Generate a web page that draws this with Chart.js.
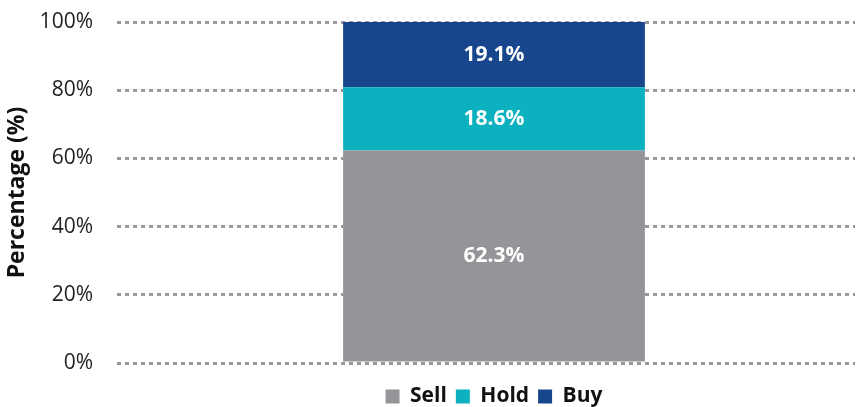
<!DOCTYPE html>
<html>
<head>
<meta charset="utf-8">
<script src="https://cdn.jsdelivr.net/npm/chart.js@4"></script>
<style>
  html, body { margin: 0; padding: 0; background: #fff; }
  #wrap { width: 860px; height: 407px; }
</style>
</head>
<body>
<div id="wrap"><canvas id="chart-1" width="860" height="407"></canvas></div>
<script>
var categories = [""];
var series_names = ["Sell", "Hold", "Buy"];
var sell_values = [62.3];
var hold_values = [18.6];
var buy_values = [19.1];
var series_colors = ["#939598", "#0bb1bf", "#17468c"];
var y_ticks = [0, 20, 40, 60, 80, 100];

// writes the value in the middle of each segment
const segment_labels = {
    id: "segment_labels",
    afterDatasetsDraw(chart) {
        const ctx = chart.ctx;
        ctx.save();
        ctx.fillStyle = "#ffffff";
        ctx.font = "bold 21px 'Open Sans'";
        ctx.textAlign = "center";
        ctx.textBaseline = "middle";
        chart.data.datasets.forEach(function(ds, i) {
            const meta = chart.getDatasetMeta(i);
            meta.data.forEach(function(bar, j) {
                const mid = (bar.y + bar.base) / 2;
                ctx.fillText(ds.data[j].toFixed(1) + "%", bar.x, mid);
            });
        });
        ctx.restore();
    },
};

const ctx = document.getElementById("chart-1").getContext("2d");
const myChart = new Chart(ctx, {
    type: "bar",
    data: {
        labels: categories,
        datasets: [{
            label: series_names[0],
            data: sell_values,
            backgroundColor: series_colors[0],
        }, {
            label: series_names[1],
            data: hold_values,
            backgroundColor: series_colors[1],
        }, {
            label: series_names[2],
            data: buy_values,
            backgroundColor: series_colors[2],
        }],
    },
    options: {
        responsive: false,
        animation: false,
        datasets: {
            bar: {
                barPercentage: 0.418,
                categoryPercentage: 1,
            },
        },
        layout: {
            padding: { left: 0, right: 5, top: 22, bottom: -10 },
        },
        plugins: {
            tooltip: { enabled: false },
            legend: {
                position: "bottom",
                fullSize: false,
                labels: {
                    boxWidth: 14,
                    boxHeight: 14,
                    padding: 9,
                    color: "#111",
                    font: { family: "'Open Sans'", size: 21, weight: "bold", lineHeight: 1 },
                },
            },
        },
        scales: {
            x: {
                stacked: true,
                grid: { display: false },
                border: { display: false },
                ticks: { display: false },
                afterFit: function(scale) {
                    scale.height = 14;
                },
            },
            y: {
                stacked: true,
                min: 0,
                max: 100,
                afterBuildTicks: function(scale) {
                    scale.ticks = y_ticks.map(function(v) { return { value: v }; });
                },
                afterFit: function(scale) {
                    scale.width = 133;
                    scale.paddingTop = 0;
                    scale.paddingBottom = 0;
                },
                border: { display: false, dash: [4, 4] },
                grid: {
                    color: "#999999",
                    lineWidth: 3,
                    drawTicks: true,
                    tickLength: 16,
                    tickBorderDash: [4, 4],
                },
                ticks: {
                    padding: 24,
                    color: "#222",
                    font: { family: "'Open Sans'", size: 21 },
                    callback: function(v) { return v + "%"; },
                },
                title: {
                    display: true,
                    text: "Percentage (%)",
                    color: "#111",
                    padding: { top: 4, bottom: 0 },
                    font: { family: "'Open Sans'", size: 23, weight: "bold" },
                },
            },
        },
    },
    plugins: [segment_labels],
});
</script>
</body>
</html>
